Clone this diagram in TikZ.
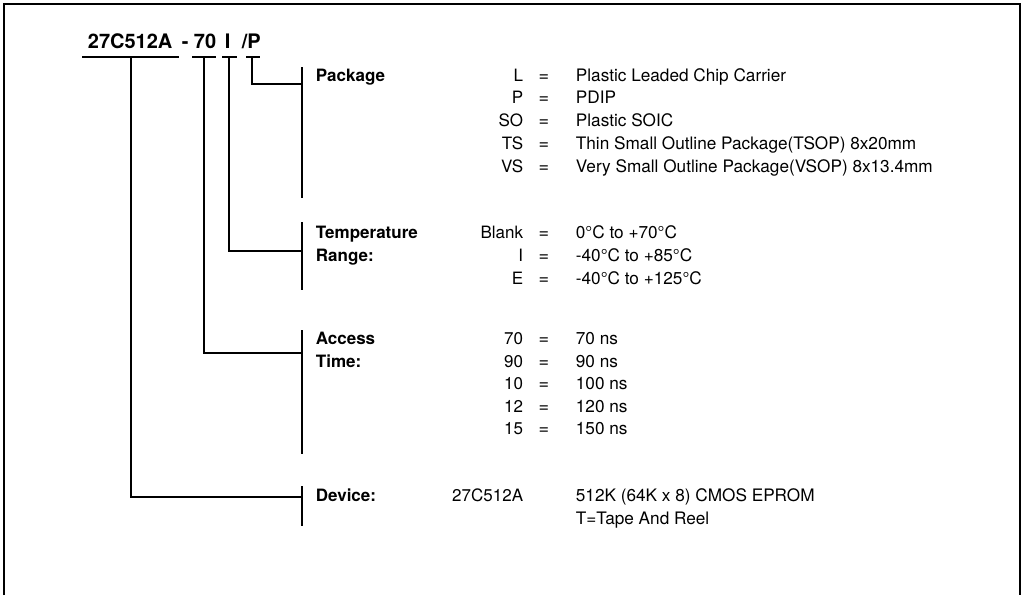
\documentclass[tikz,border=0pt]{standalone}
\usepackage{fontspec}
\setmainfont{TeX Gyre Heros}
\begin{document}
\begin{tikzpicture}[x=1pt,y=-1pt,line width=1.8pt,
  pn/.style={font=\fontsize{20}{24}\selectfont\bfseries,anchor=base west,inner sep=0pt},
  lbl/.style={font=\fontsize{17}{20}\selectfont\bfseries,anchor=base west,inner sep=0pt},
  code/.style={font=\fontsize{17}{20}\selectfont,anchor=base east,inner sep=0pt},
  eqs/.style={font=\fontsize{18}{20}\selectfont,anchor=base,inner sep=0pt},
  desc/.style={font=\fontsize{17.2}{20}\selectfont,anchor=base west,inner sep=0pt},
  wire/.style={line width=1.8pt,line cap=rect},
  frame/.style={line width=2pt}]
\useasboundingbox (0,0) rectangle (1023,595);
% frame (open at bottom)
\coordinate (fbl) at (4,595);
\coordinate (ftl) at (4,4);
\coordinate (ftr) at (1020,4);
\coordinate (fbr) at (1020,595);
\draw[frame] (fbl) -- (ftl) -- (ftr) -- (fbr);

% part number
\node[pn] (pdev) at (87,48) {27C512A};
\node[pn] (pdash) at (181,48) {-};
\node[pn] (pacc) at (193,48) {70};
\node[pn] (ptmp) at (224,48) {I};
\node[pn] (ppkg) at (241,48) {/P};

% underlines
\coordinate (u1a) at (83,57);  \coordinate (u1b) at (178,57);
\coordinate (u2a) at (193,57); \coordinate (u2b) at (215,57);
\coordinate (u3a) at (223,57); \coordinate (u3b) at (236,57);
\coordinate (u4a) at (247,57); \coordinate (u4b) at (259,57);
\draw[wire] (u1a) -- (u1b);
\draw[wire] (u2a) -- (u2b);
\draw[wire] (u3a) -- (u3b);
\draw[wire] (u4a) -- (u4b);

% bracket tops and bottoms
\coordinate (bpkgT) at (302,68);  \coordinate (bpkgB) at (302,197);
\coordinate (btmpT) at (302,223); \coordinate (btmpB) at (302,289);
\coordinate (baccT) at (302,331); \coordinate (baccB) at (302,453);
\coordinate (bdevT) at (302,487); \coordinate (bdevB) at (302,525);
\draw[wire] (bpkgT) -- (bpkgB);
\draw[wire] (btmpT) -- (btmpB);
\draw[wire] (baccT) -- (baccB);
\draw[wire] (bdevT) -- (bdevB);

% connectors
\coordinate (s1) at (131,57); \coordinate (j1) at (302,497);
\coordinate (s2) at (204,57); \coordinate (j2) at (302,353);
\coordinate (s3) at (229,57); \coordinate (j3) at (302,251);
\coordinate (s4) at (252,57); \coordinate (j4) at (302,84);
\draw[wire] (s1) |- (j1);
\draw[wire] (s2) |- (j2);
\draw[wire] (s3) |- (j3);
\draw[wire] (s4) |- (j4);

% Package
\node[lbl] (lpkg) at (315,81) {Package};
\node[code] (cL) at (524,81) {L};   \node[eqs] (eL) at (544,81) {=};  \node[desc] (dL) at (575,81) {Plastic Leaded Chip Carrier};
\node[code] (cP) at (524,103) {P};  \node[eqs] (eP) at (544,103) {=}; \node[desc] (dP) at (575,103) {PDIP};
\node[code] (cSO) at (524,126) {SO}; \node[eqs] (eSO) at (544,126) {=}; \node[desc] (dSO) at (575,126) {Plastic SOIC};
\node[code] (cTS) at (524,149) {TS}; \node[eqs] (eTS) at (544,149) {=}; \node[desc] (dTS) at (575,149) {Thin Small Outline Package(TSOP) 8x20mm};
\node[code] (cVS) at (524,172) {VS}; \node[eqs] (eVS) at (544,172) {=}; \node[desc] (dVS) at (575,172) {Very Small Outline Package(VSOP) 8x13.4mm};

% Temperature
\node[lbl] (ltmp1) at (315,238) {Temperature};
\node[lbl] (ltmp2) at (315,261) {Range:};
\node[code] (cB) at (524,238) {Blank}; \node[eqs] (eB) at (544,238) {=}; \node[desc] (dB) at (575,238) {0°C to +70°C};
\node[code] (cI) at (524,261) {I};     \node[eqs] (eI) at (544,261) {=}; \node[desc] (dI) at (575,261) {-40°C to +85°C};
\node[code] (cE) at (524,284) {E};     \node[eqs] (eE) at (544,284) {=}; \node[desc] (dE) at (575,284) {-40°C to +125°C};

% Access time
\node[lbl] (lacc1) at (315,344) {Access};
\node[lbl] (lacc2) at (315,367) {Time:};
\node[code] (c70) at (524,344) {70}; \node[eqs] (e70) at (544,344) {=}; \node[desc] (d70) at (575,344) {70 ns};
\node[code] (c90) at (524,367) {90}; \node[eqs] (e90) at (544,367) {=}; \node[desc] (d90) at (575,367) {90 ns};
\node[code] (c10) at (524,389) {10}; \node[eqs] (e10) at (544,389) {=}; \node[desc] (d10) at (575,389) {100 ns};
\node[code] (c12) at (524,412) {12}; \node[eqs] (e12) at (544,412) {=}; \node[desc] (d12) at (575,412) {120 ns};
\node[code] (c15) at (524,434) {15}; \node[eqs] (e15) at (544,434) {=}; \node[desc] (d15) at (575,434) {150 ns};

% Device
\node[lbl] (ldev) at (315,501) {Device:};
\node[code] (cdev) at (524,501) {27C512A};
\node[desc] (ddev1) at (575,501) {512K (64K x 8) CMOS EPROM};
\node[desc] (ddev2) at (575,524) {T=Tape And Reel};
\end{tikzpicture}
\end{document}
